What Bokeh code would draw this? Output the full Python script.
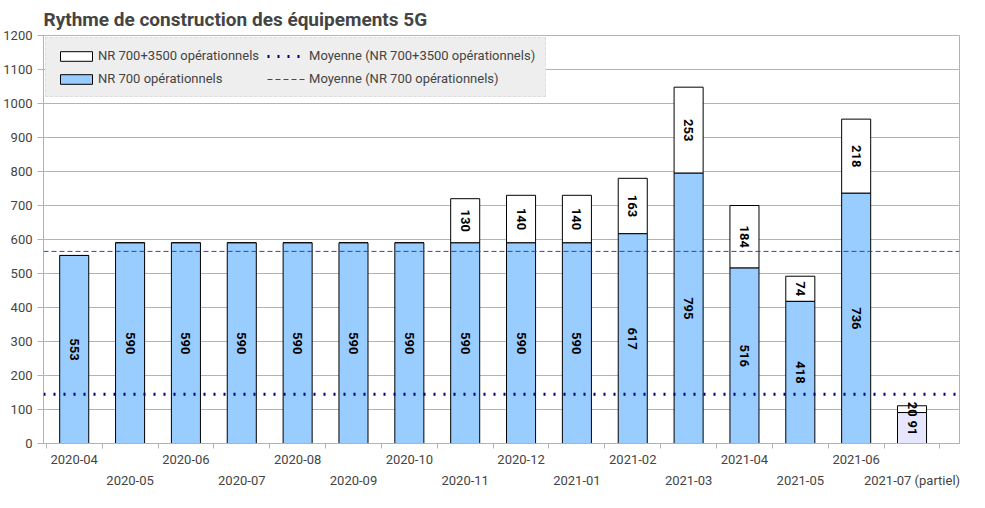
import numpy as np
from bokeh.plotting import figure
from bokeh.models import ColumnDataSource, FixedTicker, LinearAxis, Legend, LegendItem, Span, Range1d
from bokeh.core.properties import value
from bokeh.embed import file_html
from bokeh.resources import INLINE

months = ["2020-04", "2020-05", "2020-06", "2020-07", "2020-08", "2020-09", "2020-10", "2020-11",
          "2020-12", "2021-01", "2021-02", "2021-03", "2021-04", "2021-05", "2021-06", "2021-07 (partiel)"]
nr700 = [553, 590, 590, 590, 590, 590, 590, 590, 590, 590, 617, 795, 516, 418, 736, 91]
nr3500 = [0, 0, 0, 0, 0, 0, 0, 130, 140, 140, 163, 253, 184, 74, 218, 20]
avg_700 = 565
avg_all = 145

FONT = "Roboto"
x = np.arange(len(months))
fill700 = ["#99ccff"] * (len(months) - 1) + ["#e6e6ff"]
src = ColumnDataSource(dict(
    x=x, b=nr700, t=[a + b for a, b in zip(nr700, nr3500)], fill=fill700,
    lab700=[str(v) for v in nr700], y700=[v / 2 for v in nr700],
    lab3500=[str(v) if v else "" for v in nr3500],
    y3500=[a + b / 2 for a, b in zip(nr700, nr3500)],
))

p = figure(width=969, height=490, output_backend="svg", toolbar_location=None,
           x_range=Range1d(-0.55, 15.85), y_range=Range1d(0, 1200),
           title="Rythme de construction des équipements 5G")
p.title.text_font = FONT
p.title.text_font_size = "19px"
p.title.text_font_style = "bold"
p.background_fill_color = "white"
p.outline_line_color = "#b3b3b3"
p.min_border_right = 10

r1 = p.vbar(x="x", top="t", bottom="b", width=0.52, source=src, fill_color="white", line_color="black")
r2 = p.vbar(x="x", top="b", bottom=0, width=0.52, source=src, fill_color="fill", line_color="black")

s1 = Span(location=avg_all, dimension="width", line_color="#000080", line_dash="2 8", line_width=3)
s2 = Span(location=avg_700, dimension="width", line_color="#3333ff", line_dash="5 3", line_width=1)
p.add_layout(s1)
p.add_layout(s2)
d1 = p.line([0, 0], [-10, -10], line_color="#000080", line_dash="2 8", line_width=3)
d2 = p.line([0, 0], [-10, -10], line_color="#3333ff", line_dash="5 3", line_width=1)

for lab, yy in (("lab700", "y700"), ("lab3500", "y3500")):
    p.text(x="x", y=yy, text=lab, source=src, angle=-np.pi / 2, text_align="center",
           text_baseline="middle", text_font=value(FONT), text_font_size="13px", text_font_style="bold")

p.yaxis.ticker = FixedTicker(ticks=list(range(0, 1201, 100)))
p.ygrid.ticker = FixedTicker(ticks=list(range(0, 1201, 100)))
p.ygrid.grid_line_color = "#b3b3b3"
p.xgrid.grid_line_color = None
p.yaxis.major_label_text_font = FONT
p.yaxis.major_label_text_font_size = "13px"
p.yaxis.axis_line_color = "#b3b3b3"
p.yaxis.major_tick_line_color = "#b3b3b3"
p.yaxis.minor_tick_line_color = None

even = {int(i): months[i] for i in x if i % 2 == 0}
odd = {int(i): months[i] for i in x if i % 2 == 1}
ax = p.xaxis[0]
ax.ticker = FixedTicker(ticks=[i - 0.5 for i in range(len(months) + 1)])
ax.major_label_text_font_size = "0px"
ax.axis_line_color = "#b3b3b3"
ax.major_tick_line_color = "#b3b3b3"
ax.major_tick_out = 5
ax.major_tick_in = 0
ax.minor_tick_line_color = None
for lbls, ticks in ((even, list(even)), (odd, list(odd))):
    a = LinearAxis(ticker=FixedTicker(ticks=ticks), major_label_overrides=lbls,
                   axis_line_color=None, major_tick_line_color=None, minor_tick_line_color=None,
                   major_label_text_font=FONT, major_label_text_font_size="13px",
                   major_label_standoff=0)
    p.add_layout(a, "below")

leg = Legend(items=[
    LegendItem(label="NR 700+3500 opérationnels", renderers=[r1]),
    LegendItem(label="NR 700 opérationnels", renderers=[r2]),
    LegendItem(label="Moyenne (NR 700+3500 opérationnels)", renderers=[d1]),
    LegendItem(label="Moyenne (NR 700 opérationnels)", renderers=[d2]),
], location="top_left", ncols=2, background_fill_color="#eeeeee", background_fill_alpha=1,
    border_line_color="#cccccc", border_line_dash="2 2", label_text_font=FONT,
    label_text_font_size="13px", glyph_width=40, glyph_height=12, spacing=8,
    margin=2, padding=10, label_standoff=2)
p.add_layout(leg)

open("out.html", "w").write(file_html(p, INLINE))
